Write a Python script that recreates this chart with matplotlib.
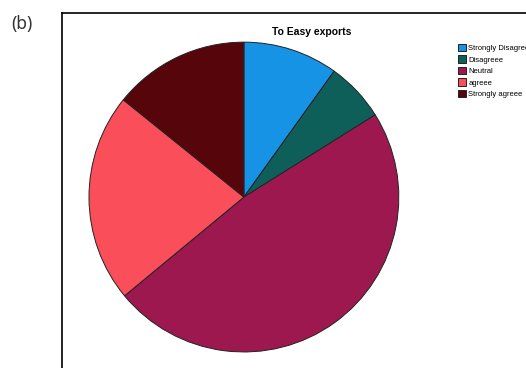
import matplotlib.pyplot as plt
from matplotlib.lines import Line2D

labels = ['Strongly Disagree', 'Disagreee', 'Neutral', 'agreee', 'Strongly agreee']
shares = [9.9, 6.2, 47.9, 21.8, 14.2]
colors = ['#1793E6', '#0E5E5A', '#9E1850', '#FA4F5A', '#56050A']

fig = plt.figure(figsize=(5.26, 3.68), dpi=100)

# panel frame (open to the right and bottom)
fig.add_artist(Line2D([0.1179, 0.1179], [0.0, 0.9647], color='black', lw=1.2))
fig.add_artist(Line2D([0.1179, 1.0], [0.9647, 0.9647], color='black', lw=1.2))

fig.text(0.022, 0.935, '(b)', fontsize=12.5, color='#333333',
         family='Noto Sans', va='center', ha='left')

ax = fig.add_axes([0.1692, 0.0435, 0.589, 0.842])
wedges, _ = ax.pie(shares, colors=colors, startangle=90, counterclock=False,
                   wedgeprops=dict(edgecolor='#222222', linewidth=0.7))
ax.set_xlim(-1.0, 1.0)
ax.set_ylim(-1.0, 1.0)
ax.set_aspect('equal')

fig.text(0.593, 0.912, 'To Easy exports', fontsize=7.5, fontweight='bold',
         family='Liberation Sans', ha='center', va='center')

fig.legend(wedges, labels, loc='upper left', bbox_to_anchor=(0.863, 0.891),
           frameon=False, borderpad=0, handlelength=1.1,
           handleheight=1.1, handletextpad=0.3, labelspacing=0.42,
           prop={'family': 'Liberation Sans', 'size': 5.5})

fig.savefig('out.png', dpi=100)
